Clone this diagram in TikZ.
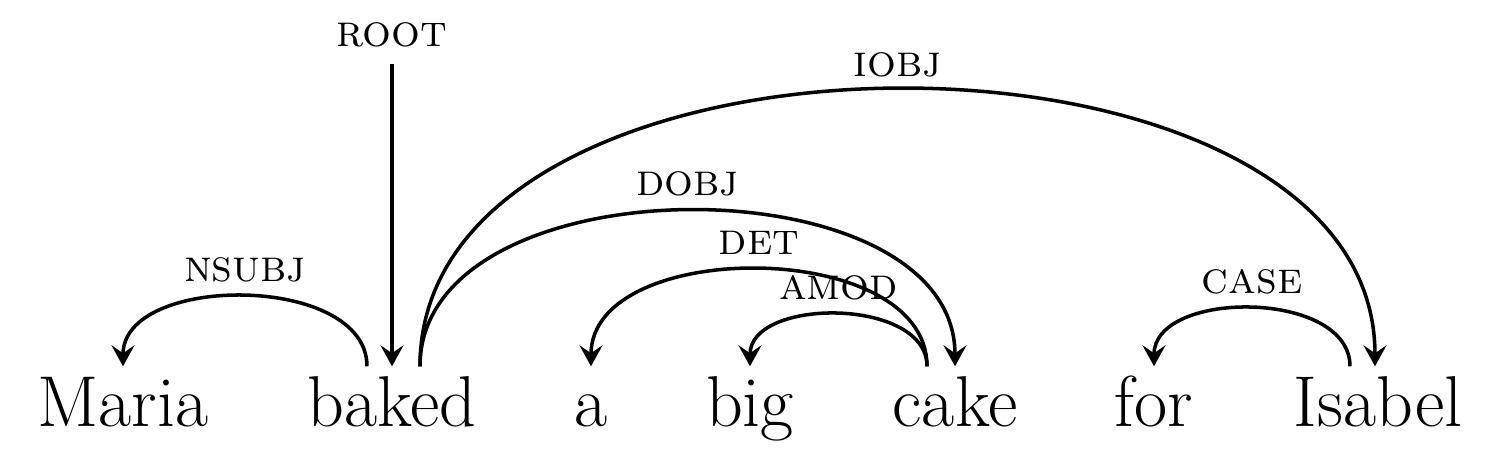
\documentclass[tikz,border=0pt]{standalone}
\usepackage{tikz}
\usetikzlibrary{positioning,arrows.meta,calc}

\begin{document}
\begin{tikzpicture}[
  word/.style={anchor=base, inner sep=0pt, text height=0.6cm, text depth=0.2cm,
    font=\fontsize{20.5}{24}\selectfont},
  lab/.style={font=\fontsize{12.9}{15}\selectfont\scshape, inner sep=0pt},
  rel/.style={-{Stealth[length=2.1mm, width=2.3mm, inset=0.8mm]}, line width=1pt}
]
\useasboundingbox (0,0) rectangle (15,4.71);

% the sentence
\node[word] (maria)  at (1.23,0.44)  {Maria};
\node[word] (baked)  at (3.92,0.44)  {baked};
\node[word] (a)      at (5.91,0.44)  {a};
\node[word] (big)    at (7.50,0.44)  {big};
\node[word] (cake)   at (9.55,0.44)  {cake};
\node[word] (for)    at (11.54,0.44) {for};
\node[word] (isabel) at (13.78,0.44) {Isabel};

% root
\node[lab] (root) at (3.92,4.36) {root};
\draw[rel, shorten <=1.6mm] (root) -- (baked);

% arcs, head -> dependent
\draw[rel] ($(baked.north)+(-0.25,0)$) .. controls +(0,0.93) and +(0,0.93) .. (maria.north)
  node[lab, midway, above=1.3mm] {nsubj};
\draw[rel] ($(baked.north)+(0.28,0)$) .. controls +(0,3.69) and +(0,3.69) .. ($(isabel.north)+(-0.03,0)$)
  node[lab, midway, above=1.1mm] {iobj};
\draw[rel] ($(baked.north)+(0.28,0)$) .. controls +(0,2.07) and +(0,2.07) .. (cake.north)
  node[lab, midway, above=1.3mm] {dobj};
\draw[rel] ($(cake.north)+(-0.28,0)$) .. controls +(0,1.29) and +(0,1.29) .. (a.north)
  node[lab, midway, above=1.3mm] {det};
\draw[rel] ($(cake.north)+(-0.28,0)$) .. controls +(0,0.69) and +(0,0.69) .. (big.north)
  node[lab, midway, above=1.3mm] {amod};
\draw[rel] ($(isabel.north)+(-0.28,0)$) .. controls +(0,0.77) and +(0,0.77) .. (for.north)
  node[lab, midway, above=1.3mm] {case};
\end{tikzpicture}
\end{document}
